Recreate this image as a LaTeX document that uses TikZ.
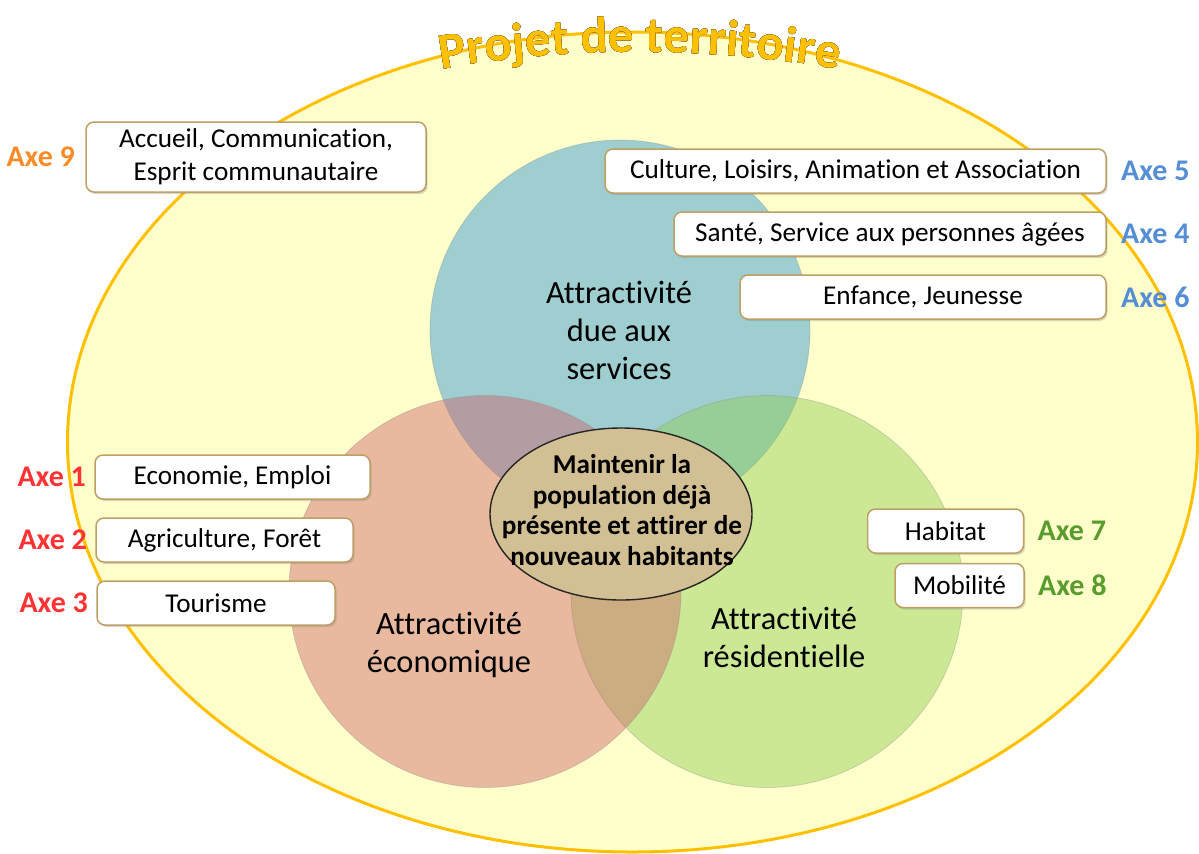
\documentclass[tikz,border=0pt]{standalone}
\usepackage{fontspec}
\setmainfont{Carlito}[Ligatures=NoCommon]
\usepackage{xcolor}
\usetikzlibrary{positioning,shapes.geometric,shadows,decorations.text}

\definecolor{terrfill}{RGB}{255,255,204}
\definecolor{terrline}{RGB}{255,192,0}
\definecolor{svcblue}{RGB}{44,148,213}
\definecolor{resgreen}{RGB}{142,204,80}
\definecolor{ecored}{RGB}{204,99,106}
\definecolor{corefill}{RGB}{210,192,148}
\definecolor{boxline}{RGB}{190,160,100}
\definecolor{axeorange}{RGB}{250,140,40}
\definecolor{axered}{RGB}{255,51,51}
\definecolor{axeblue}{RGB}{85,142,213}
\definecolor{axegreen}{RGB}{90,155,45}
\definecolor{titleline}{RGB}{120,100,70}

\newcommand{\titlefont}{\fontsize{25.5}{30}\selectfont\bfseries}

\begin{document}
\begin{tikzpicture}[x=0.5pt, y=-0.5pt]
\tikzset{
    zone/.style={circle, fill opacity=0.45, draw=black!45, draw opacity=0.35, line width=0.4pt, minimum size=196pt, inner sep=0pt},
    zonelabel/.style={font=\fontsize{16.2}{19}\selectfont, align=center},
    axebox/.style={rectangle, rounded corners=4pt, draw=boxline, line width=0.75pt, fill=white, drop shadow={shadow xshift=0.8pt, shadow yshift=-1pt, opacity=0.3}, minimum height=22pt, inner sep=2pt, font=\fontsize{13.6}{16.5}\selectfont, align=center},
    axelabel/.style={font=\fontsize{15}{17}\selectfont\bfseries, inner sep=0pt},
    titlepath/.style={decorate, decoration={text along path, text={|\titlefont|Projet de territoire}, text align=center, text color=#1}}
}
\useasboundingbox (0,0) rectangle (1199,853);

% fond du projet de territoire
\node[ellipse, draw=terrline, fill=terrfill, line width=1.5pt, minimum width=565pt, minimum height=410pt, inner sep=0pt] (territoire) at (632.5,442) {};

% titre courbe, contour en plusieurs passes
\coordinate (titleL) at (425,72);
\coordinate (titleC1) at (568,46);
\coordinate (titleC2) at (712,46);
\coordinate (titleR) at (855,72);
\path[titlepath=black!25, xshift=1.3pt, yshift=-1.6pt] (titleL) .. controls (titleC1) and (titleC2) .. (titleR);
\foreach \dx/\dy in {-1/0, 1/0, 0/-1, 0/1, -0.7/-0.7, 0.7/0.7, -0.7/0.7, 0.7/-0.7}
    \path[titlepath=titleline, xshift=\dx pt, yshift=\dy pt] (titleL) .. controls (titleC1) and (titleC2) .. (titleR);
\path[titlepath=terrline] (titleL) .. controls (titleC1) and (titleC2) .. (titleR);

% les trois attractivites
\node[zone, fill=svcblue, minimum size=190pt] (services) at (620,330) {};
\node[zone, fill=resgreen] (residence) at (767,591.5) {};
\node[zone, fill=ecored] (economie-zone) at (485,591.5) {};

\node[zonelabel] (services-lbl) at (619,330) {Attractivité\\due aux\\services};
\node[zonelabel] (eco-lbl) at (449,645) {Attractivité\\économique};
\node[zonelabel] (res-lbl) at (784,637) {Attractivité\\résidentielle};

% objectif central
\node[ellipse, draw=black!85, fill=corefill, line width=0.7pt, minimum width=131pt, minimum height=86pt, inner sep=0pt] (core) at (621,514) {};
\node[font=\fontsize{13.6}{15.4}\selectfont\bfseries, align=center] (core-lbl) at (622,510) {Maintenir la\\population déjà\\présente et attirer de\\nouveaux habitants};

% axes
\node[axebox, minimum width=170pt, minimum height=35pt] (accueil) at (256,157) {Accueil, Communication,\\Esprit communautaire};
\node[axebox, minimum width=250.5pt] (culture) at (855.5,171) {Culture, Loisirs, Animation et Association};
\node[axebox, minimum width=216pt] (sante) at (890,234) {Santé, Service aux personnes âgées};
\node[axebox, minimum width=183pt] (enfance) at (923,297) {Enfance, Jeunesse};
\node[axebox, minimum width=137.5pt] (economie) at (232.5,477) {Economie, Emploi};
\node[axebox, minimum width=128.5pt] (agriculture) at (224.5,540) {Agriculture, Forêt};
\node[axebox, minimum width=119pt] (tourisme) at (216,603) {Tourisme};
\node[axebox, minimum width=78pt] (habitat) at (945.5,531) {Habitat};
\node[axebox, minimum width=64.5pt] (mobilite) at (959.5,585.5) {Mobilité};

\node[axelabel, text=axeorange, left=5pt of accueil] (axe9) {Axe 9};
\node[axelabel, text=axeblue, right=7pt of culture] (axe5) {Axe 5};
\node[axelabel, text=axeblue, right=7pt of sante] (axe4) {Axe 4};
\node[axelabel, text=axeblue, right=7pt of enfance] (axe6) {Axe 6};
\node[axelabel, text=axered, left=4pt of economie] (axe1) {Axe 1};
\node[axelabel, text=axered, left=4pt of agriculture] (axe2) {Axe 2};
\node[axelabel, text=axered, left=4pt of tourisme] (axe3) {Axe 3};
\node[axelabel, text=axegreen, right=6.5pt of habitat] (axe7) {Axe 7};
\node[axelabel, text=axegreen, right=6.5pt of mobilite] (axe8) {Axe 8};

\end{tikzpicture}
\end{document}
